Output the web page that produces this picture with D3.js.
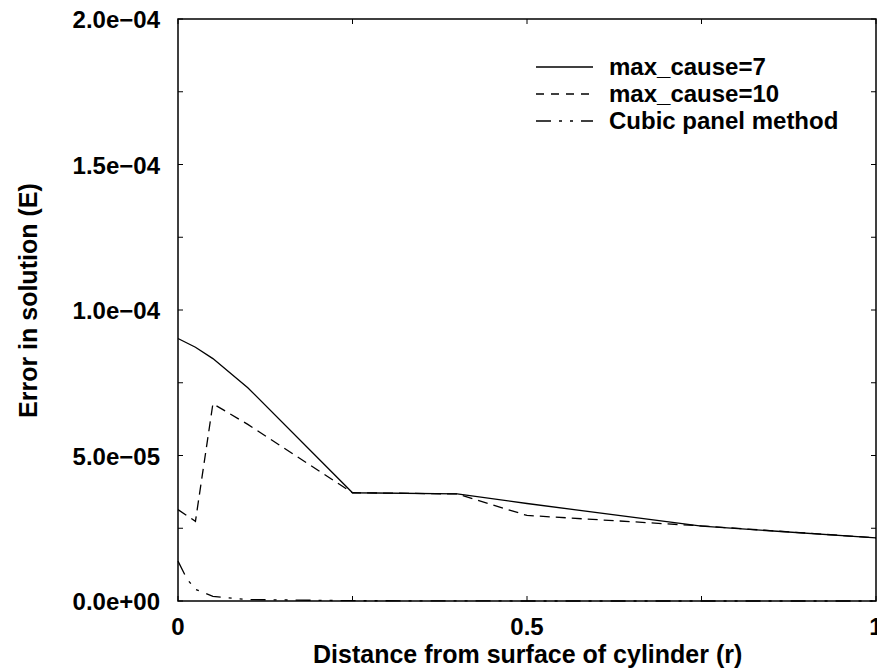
<!DOCTYPE html>
<html>
<head>
<meta charset="utf-8">
<script src="https://cdn.jsdelivr.net/npm/d3@7"></script>
<style>
  body { margin: 0; background: #fff; }
  text { font-family: "Liberation Sans", Arial, sans-serif; font-weight: bold; fill: #000; }
</style>
</head>
<body>
<script>
// data
var seriesNames = ["max_cause=7", "max_cause=10", "Cubic panel method"];
var cause7X = [0, 0.025, 0.05, 0.1, 0.25, 0.4, 0.5, 0.75, 1];
var cause7Y = [9.02e-5, 8.72e-5, 8.33e-5, 7.33e-5, 3.72e-5, 3.68e-5, 3.35e-5, 2.57e-5, 2.17e-5];
var cause10X = [0, 0.025, 0.05, 0.1, 0.25, 0.4, 0.5, 0.75, 1];
var cause10Y = [3.14e-5, 2.74e-5, 6.78e-5, 6.07e-5, 3.72e-5, 3.68e-5, 2.94e-5, 2.58e-5, 2.17e-5];
var cubicX = [0, 0.0125, 0.025, 0.05, 0.1, 0.25, 0.5, 0.75, 1];
var cubicY = [1.37e-5, 7.7e-6, 4.0e-6, 1.6e-6, 5e-7, 1e-7, 0, 0, 0];
var xTicks = [0, 0.5, 1];
var xTickLabels = ["0", "0.5", "1"];
var xMinorTicks = [0.25, 0.75];
var yTicks = [0, 5e-5, 1e-4, 1.5e-4, 2e-4];
var yTickLabels = ["0.0e+00", "5.0e\u221205", "1.0e\u221204", "1.5e\u221204", "2.0e\u221204"];
var yMinorTicks = [2.5e-5, 7.5e-5, 1.25e-4, 1.75e-4];

var w = 877;
var h = 672;
var margin = { top: 19, left: 178, bottom: 71, right: 1 };
var width = w - margin.left - margin.right;
var height = h - margin.top - margin.bottom;

var svg = d3.select("body")
  .append("svg")
  .attr("width", w)
  .attr("height", h);

var g = svg.append("g")
  .attr("transform", "translate(" + margin.left + "," + margin.top + ")");

var x = d3.scaleLinear().domain([0, 1]).range([0, width]);
var y = d3.scaleLinear().domain([0, 2e-4]).range([height, 0]);

var series = [
  { xs: cause7X, ys: cause7Y, dash: null },
  { xs: cause10X, ys: cause10Y, dash: "10,6" },
  { xs: cubicX, ys: cubicY, dash: "15,8,3,8,3,8" }
];

var line = d3.line()
  .x(function(d) { return x(d[0]); })
  .y(function(d) { return y(d[1]); });

// ticks, inward on all four sides
var tickLen = 5;
var tickStyle = function(sel) { sel.attr("stroke", "#000").attr("stroke-width", 1); };
xTicks.concat(xMinorTicks).forEach(function(t) {
  g.append("line").attr("x1", x(t)).attr("x2", x(t)).attr("y1", height).attr("y2", height - tickLen).call(tickStyle);
  g.append("line").attr("x1", x(t)).attr("x2", x(t)).attr("y1", 0).attr("y2", tickLen).call(tickStyle);
});
yTicks.concat(yMinorTicks).forEach(function(t) {
  g.append("line").attr("x1", 0).attr("x2", tickLen).attr("y1", y(t)).attr("y2", y(t)).call(tickStyle);
  g.append("line").attr("x1", width).attr("x2", width - tickLen).attr("y1", y(t)).attr("y2", y(t)).call(tickStyle);
});

g.selectAll(".series")
  .data(series)
  .enter()
  .append("path")
  .attr("d", function(s) { return line(d3.zip(s.xs, s.ys)); })
  .attr("fill", "none")
  .attr("stroke", "#000")
  .attr("stroke-width", 1.3)
  .attr("stroke-dasharray", function(s) { return s.dash; });

// frame
g.append("rect")
  .attr("width", width)
  .attr("height", height)
  .attr("fill", "none")
  .attr("stroke", "#000")
  .attr("stroke-width", 1.5);

// tick labels
g.selectAll(".xlab")
  .data(xTicks)
  .enter()
  .append("text")
  .attr("x", function(d) { return x(d); })
  .attr("y", height + 34)
  .attr("text-anchor", "middle")
  .style("font-size", "24px")
  .text(function(d, i) { return xTickLabels[i]; });

g.selectAll(".ylab")
  .data(yTicks)
  .enter()
  .append("text")
  .attr("x", -18)
  .attr("y", function(d) { return y(d) + 9; })
  .attr("text-anchor", "end")
  .style("font-size", "24px")
  .text(function(d, i) { return yTickLabels[i]; });

// axis titles
svg.append("text")
  .attr("x", 313)
  .attr("y", 663)
  .style("font-size", "25px")
  .text("Distance from surface of cylinder (r)");

svg.append("text")
  .attr("transform", "translate(37,418) rotate(-90)")
  .style("font-size", "25px")
  .text("Error in solution (E)");

// legend
var legend = svg.append("g").attr("transform", "translate(536,67)");
series.forEach(function(s, i) {
  legend.append("line")
    .attr("x1", 0).attr("x2", 57)
    .attr("y1", i * 27).attr("y2", i * 27)
    .attr("stroke", "#000")
    .attr("stroke-width", 1.3)
    .attr("stroke-dasharray", i === 1 ? "8,7" : s.dash);
  legend.append("text")
    .attr("x", 73)
    .attr("y", i * 27 + 8)
    .style("font-size", "24px")
    .text(seriesNames[i]);
});
</script>
</body>
</html>
